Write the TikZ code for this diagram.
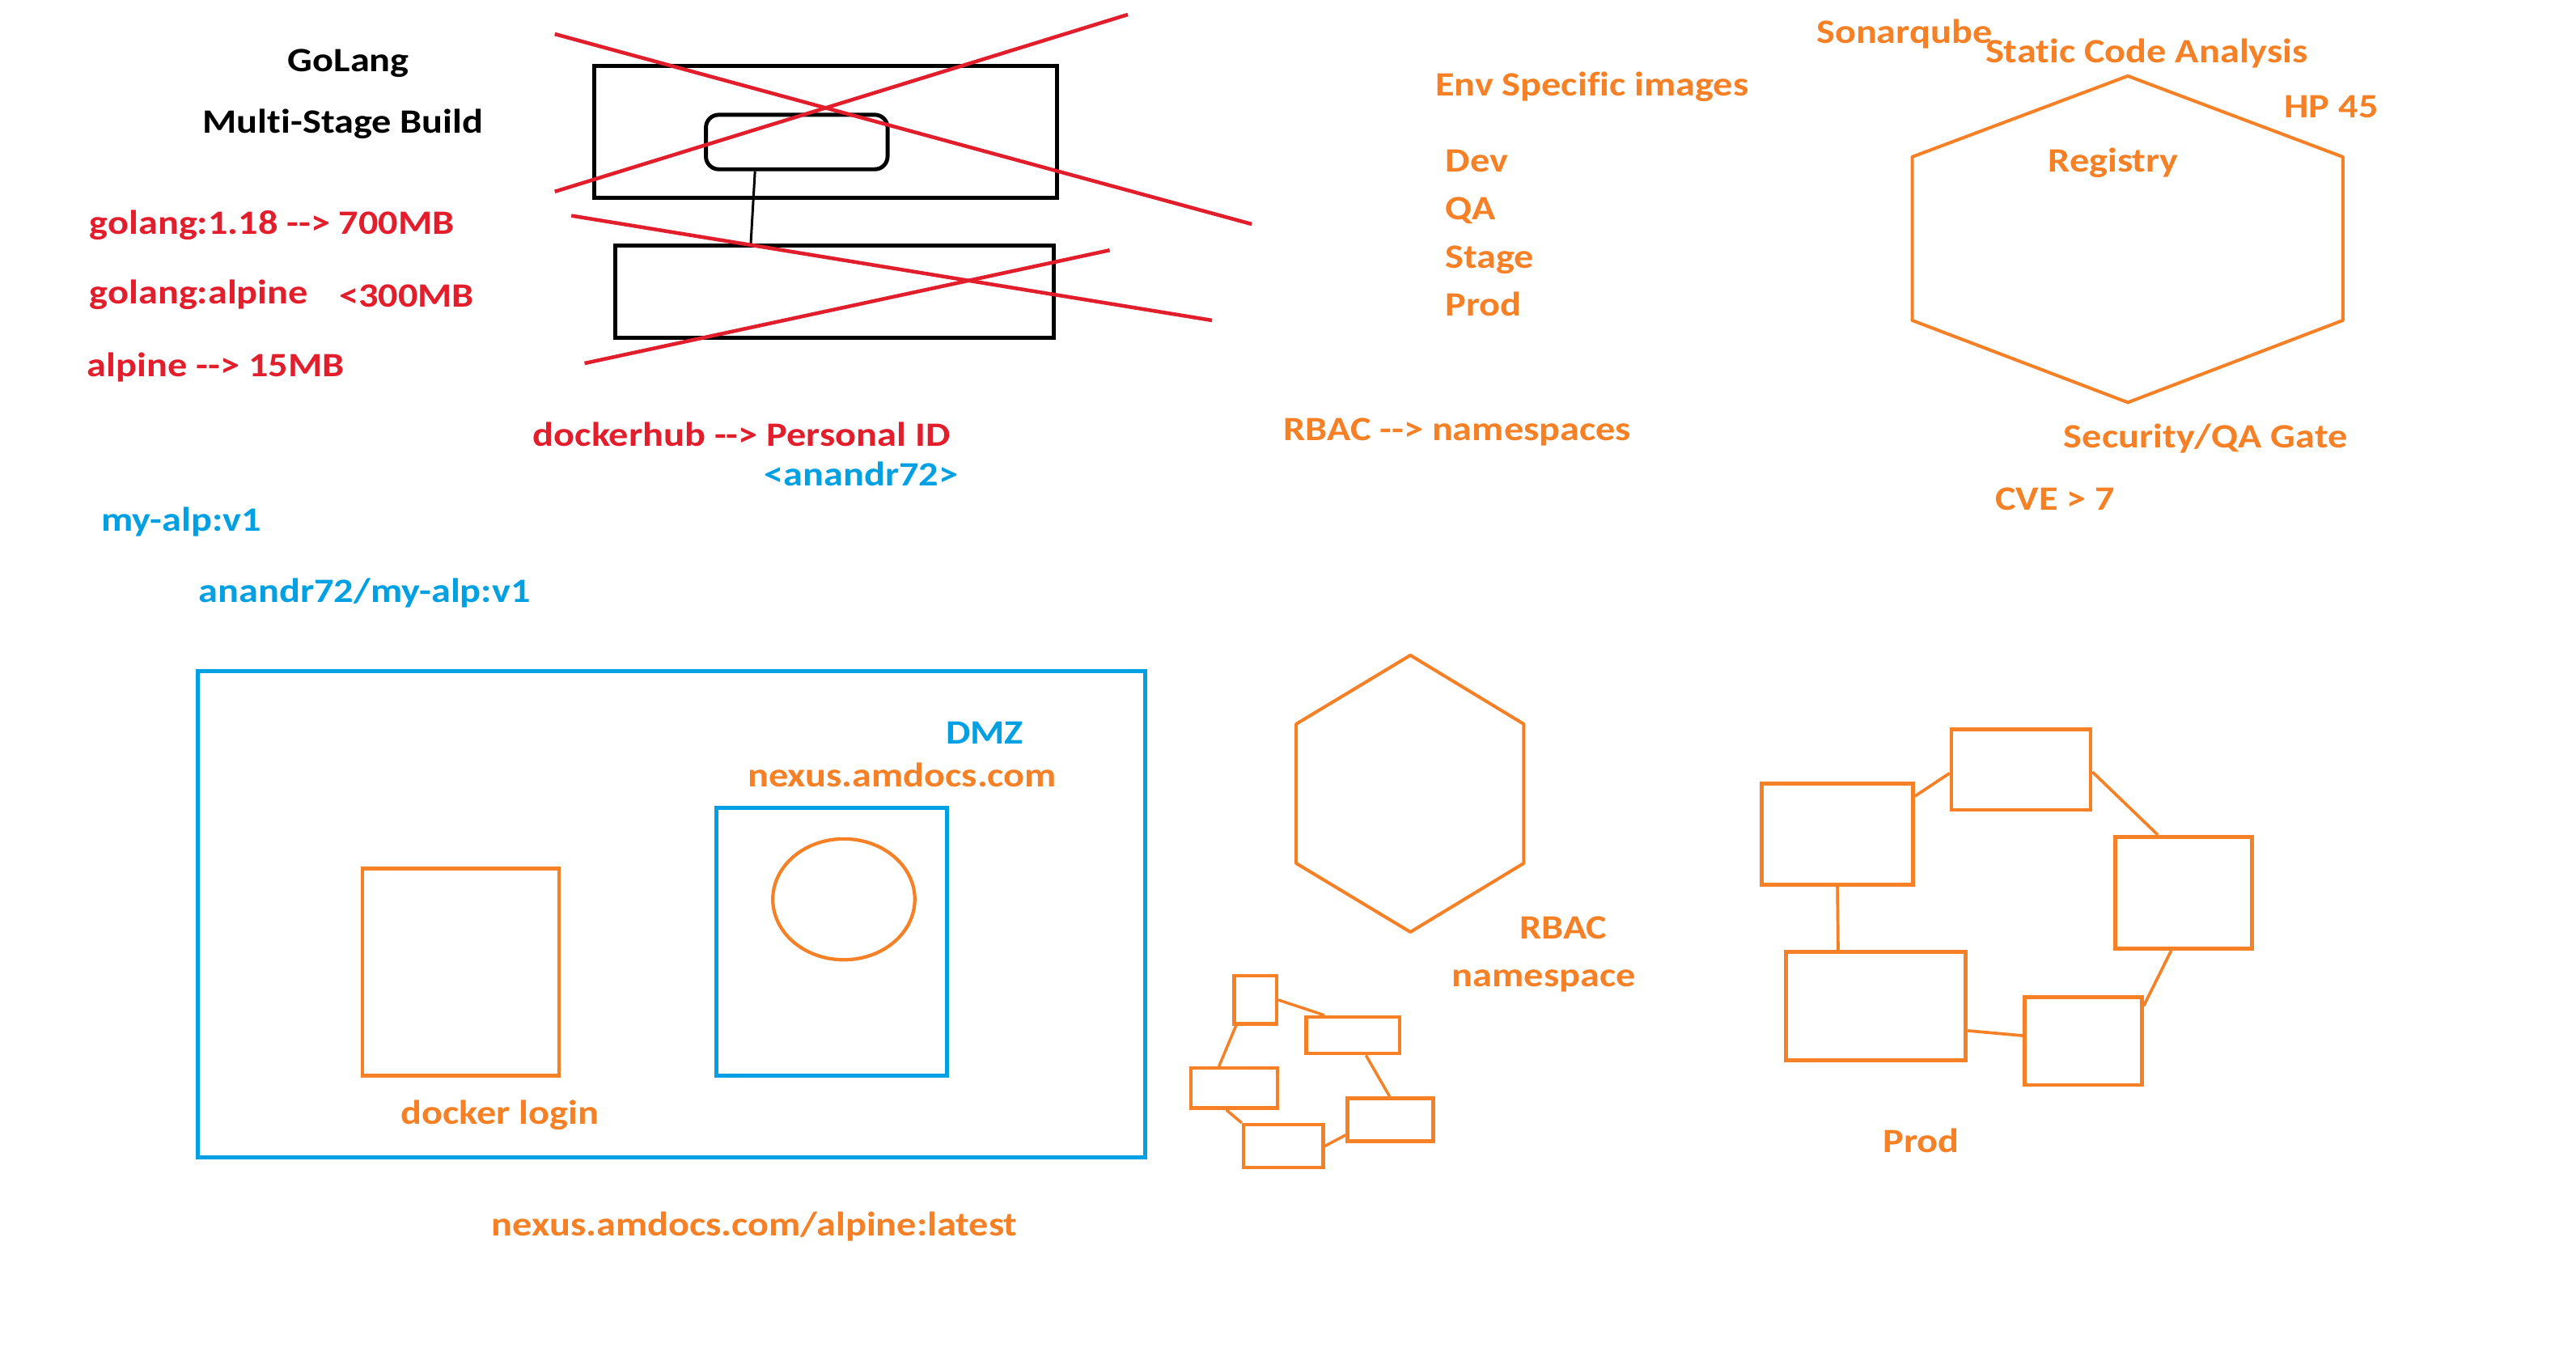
\documentclass[tikz,border=0pt]{standalone}
\usepackage{fontspec}
\setmainfont{Carlito}[Ligatures={TeXOff,NoCommon},FakeStretch=1.145]
\usetikzlibrary{positioning}
\definecolor{paintred}{RGB}{226,30,45}
\definecolor{paintorange}{RGB}{245,128,37}
\definecolor{paintblue}{RGB}{0,160,226}
\newcommand\pxl{0.2041mm}

\begin{document}
\begin{tikzpicture}[
		x=0.2041mm, y=-0.2041mm,
		font=\fontsize{12}{14}\selectfont\bfseries,
		lbl/.style={anchor=base west,inner sep=0pt,yshift=-0.3mm},
		blacklbl/.style={lbl,text=black},
		redlbl/.style={lbl,text=paintred},
		bluelbl/.style={lbl,text=paintblue},
		orangelbl/.style={lbl,text=paintorange},
		wh/.style 2 args={minimum width=#1*\pxl,minimum height=#2*\pxl},
		blackbox/.style={draw,line width=1.4pt,inner sep=0pt},
		bluebox/.style={draw=paintblue,line width=1.45pt,inner sep=0pt},
		orangebox/.style={draw=paintorange,line width=1.35pt,inner sep=0pt},
		smallbox/.style={draw=paintorange,line width=1.25pt,inner sep=0pt},
		crossline/.style={paintred,line width=1.3pt},
		hexline/.style={paintorange,line width=1.15pt,line join=round}
		]
		\useasboundingbox (0,0) rectangle (1560,820.7);
		% multi-stage build
		\node[blacklbl] (golang) at (174,42) {GoLang};
		\node[blacklbl] (multistage) at (122.5,79.3) {Multi-Stage Build};
		\node[blackbox,wh={280}{80}] (stageone) at (500,80) {};
		\node[blackbox,wh={110}{33},rounded corners=4.5pt] (binbox) at (482.5,86) {};
		\node[blackbox,wh={265.5}{56}] (stagetwo) at (505.25,176.75) {};
		\draw[line width=0.85pt] (binbox.215) -- (stagetwo.150);
		\draw[crossline] (336,20.6) -- (758,135.7);
		\draw[crossline] (336,116) -- (683,8.8);
		\draw[crossline] (346,130.6) -- (734,194);
		\draw[crossline] (354,220) -- (672,151.5);
		% image sizes
		\node[redlbl] (gofull) at (54,140.5) {golang:1.18 --> 700MB};
		\node[redlbl] (goalp) at (54,182.5) {golang:alpine};
		\node[redlbl] (goalpsize) at (205,184.5) {<300MB};
		\node[redlbl] (alp) at (52.5,226.5) {alpine --> 15MB};
		\node[redlbl] (dockerhub) at (322.5,268.5) {dockerhub --> Personal ID};
		\node[bluelbl] (userid) at (462.5,292.5) {<anandr72>};
		\node[bluelbl] (myalp) at (61,320) {my-alp:v1};
		\node[bluelbl] (tagged) at (120,363.5) {anandr72/my-alp:v1};
		% env specific images
		\node[orangelbl] (envimg) at (869,56.5) {Env Specific images};
		\node[orangelbl] (dev) at (875,102.5) {Dev};
		\node[orangelbl,below=5.65mm of dev.base west,anchor=base west] (qa) {QA};
		\node[orangelbl,below=5.65mm of qa.base west,anchor=base west] (stage) {Stage};
		\node[orangelbl,below=5.65mm of stage.base west,anchor=base west] (prod) {Prod};
		\node[orangelbl] (rbacns) at (777,265.5) {RBAC --> namespaces};
		% registry
		\draw[hexline] (1288.6,46) -- (1418.8,95) -- (1418.8,194) -- (1288.6,243.7)
			-- (1158,194) -- (1158,95) -- cycle;
		\node[orangelbl] (sonar) at (1099.7,24.5) {Sonarqube};
		\node[orangelbl] (static) at (1202,36.5) {Static Code Analysis};
		\node[orangelbl] (hp) at (1383,70) {HP 45};
		\node[orangelbl] (registry) at (1240,102.5) {Registry};
		\node[orangelbl] (gate) at (1249.5,269.5) {Security/QA Gate};
		\node[orangelbl] (cve) at (1208,307.5) {CVE > 7};
		% dmz
		\node[bluebox,wh={573.5}{294.3}] (dmz) at (406.75,553.55) {};
		\node[bluebox,wh={139.5}{162}] (nexusbox) at (503.75,570.3) {};
		\node[orangebox,wh={119}{125.3}] (loginbox) at (279,588.65) {};
		\draw[paintorange,line width=1.2pt] (511,544.6) ellipse [x radius=43,y radius=36.6];
		\node[bluelbl] (dmzlbl) at (572.5,449) {DMZ};
		\node[orangelbl] (nexus) at (452.5,475) {nexus.amdocs.com};
		\node[orangelbl] (login) at (242.5,679.5) {docker login};
		\node[orangelbl] (nexusimg) at (297.5,747) {nexus.amdocs.com/alpine:latest};
		% rbac namespace
		\draw[hexline] (854.1,396.8) -- (922.7,438.4) -- (922.7,522.8) -- (854.1,564.4)
			-- (785,522.8) -- (785,438.4) -- cycle;
		\node[orangelbl] (rbac) at (920,567) {RBAC};
		\node[orangelbl] (ns) at (879,596) {namespace};
		\node[smallbox,wh={25.5}{29}] (na) at (760.25,605.5) {};
		\node[smallbox,wh={56.6}{22.2}] (nb) at (819.3,626.9) {};
		\node[smallbox,wh={52.2}{24.2}] (nc) at (747.4,658.9) {};
		\node[smallbox,wh={52}{26}] (nd) at (842,678) {};
		\node[smallbox,wh={48.3}{26}] (ne) at (777.15,694) {};
		\path[paintorange,line width=1pt]
		(na.east) edge (nb.145)
		(na.233) edge (nc.125)
		(nb.303) edge (nd.92)
		(nc.250) edge (ne.north west)
		(ne.east) edge (nd.199);
		% prod
		\node[orangebox,wh={91.4}{61.3}] (pa) at (1112.7,505.05) {};
		\node[orangebox,wh={84.2}{48.9}] (pb) at (1223.9,465.95) {};
		\node[orangebox,wh={82.6}{67.8}] (pc) at (1322.3,540.6) {};
		\node[orangebox,wh={108.9}{65.5}] (pd) at (1136.05,609.25) {};
		\node[orangebox,wh={71}{53.3}] (pe) at (1261.5,630.35) {};
		\path[paintorange,line width=1.05pt]
		(pa.26) edge (pb.183)
		(pb.358) edge (pc.114)
		(pc.258) edge (pe.30)
		(pd.-15) edge (pe.175)
		(pa.south) edge (pd.124);
		\node[orangelbl] (prodlbl) at (1140,696.5) {Prod};
	\end{tikzpicture}
\end{document}
